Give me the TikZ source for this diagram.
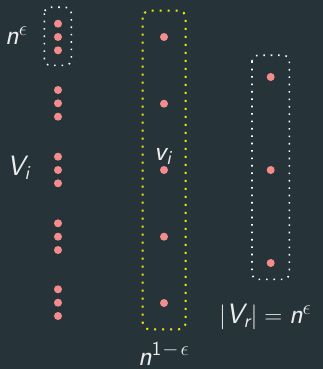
\documentclass[tikz,border=0pt]{standalone}
\usepackage{amsmath}
\DeclareMathSizes{28}{28}{20}{15}
\definecolor{bg}{RGB}{38,52,58}
\definecolor{pinkdot}{RGB}{245,140,140}
\definecolor{ybox}{RGB}{240,230,20}
\newcommand\sit[1]{\text{\sffamily\itshape #1}}
\tikzset{
  vdot/.style={circle,fill=pinkdot,inner sep=0pt,minimum size=8pt},
  wbox/.style={draw=white,line width=1.6pt,dash pattern=on 1.6pt off 5.8pt,rounded corners=6pt},
  yboxs/.style={draw=ybox,line width=2pt,dash pattern=on 2pt off 6pt,rounded corners=7pt},
  lbl/.style={text=white!92!black,font=\fontsize{28}{32}\selectfont,inner sep=0pt,anchor=base west}
}
\begin{document}
\begin{tikzpicture}[x=1pt,y=-1pt]
\fill[bg] (0,0) rectangle (323,369);
\useasboundingbox (0,0) rectangle (323,369);
% left column
\foreach \y [count=\i] in {23.7,37,50.3,90,103.3,116.7,156.7,170,183.3,223.3,236.7,250,289.3,302.7,316}
  \node[vdot] (l\i) at (58,\y) {};
\draw[wbox] (44.3,7.3) rectangle (71.3,65.3);
\node[lbl] (neps) at (5,45) {$\sit{n}^{\epsilon}$};
\node[lbl] (Vi) at (7,175) {$\sit{V}_{\sit{i}}$};
% middle column
\foreach \y [count=\i] in {37,103.7,170,236.7,303}
  \node[vdot] (m\i) at (164,\y) {};
\draw[yboxs] (142.7,10.7) rectangle (185.7,329.3);
\node[lbl] (vi) at (154,160) {$\sit{v}_{\sit{i}}$};
\node[lbl] (n1e) at (138,365) {$\sit{n}^{\text{\sffamily 1}\mkern1mu-\mkern2mu\epsilon}$};
% right column
\foreach \y [count=\i] in {77,170,263}
  \node[vdot] (r\i) at (270.7,\y) {};
\draw[wbox] (252,55.3) rectangle (289.3,279.3);
\node[lbl] (Vr) at (219,323.3) {$|\sit{V}_{\sit{r}}| = \sit{n}^{\epsilon}$};
\end{tikzpicture}
\end{document}
